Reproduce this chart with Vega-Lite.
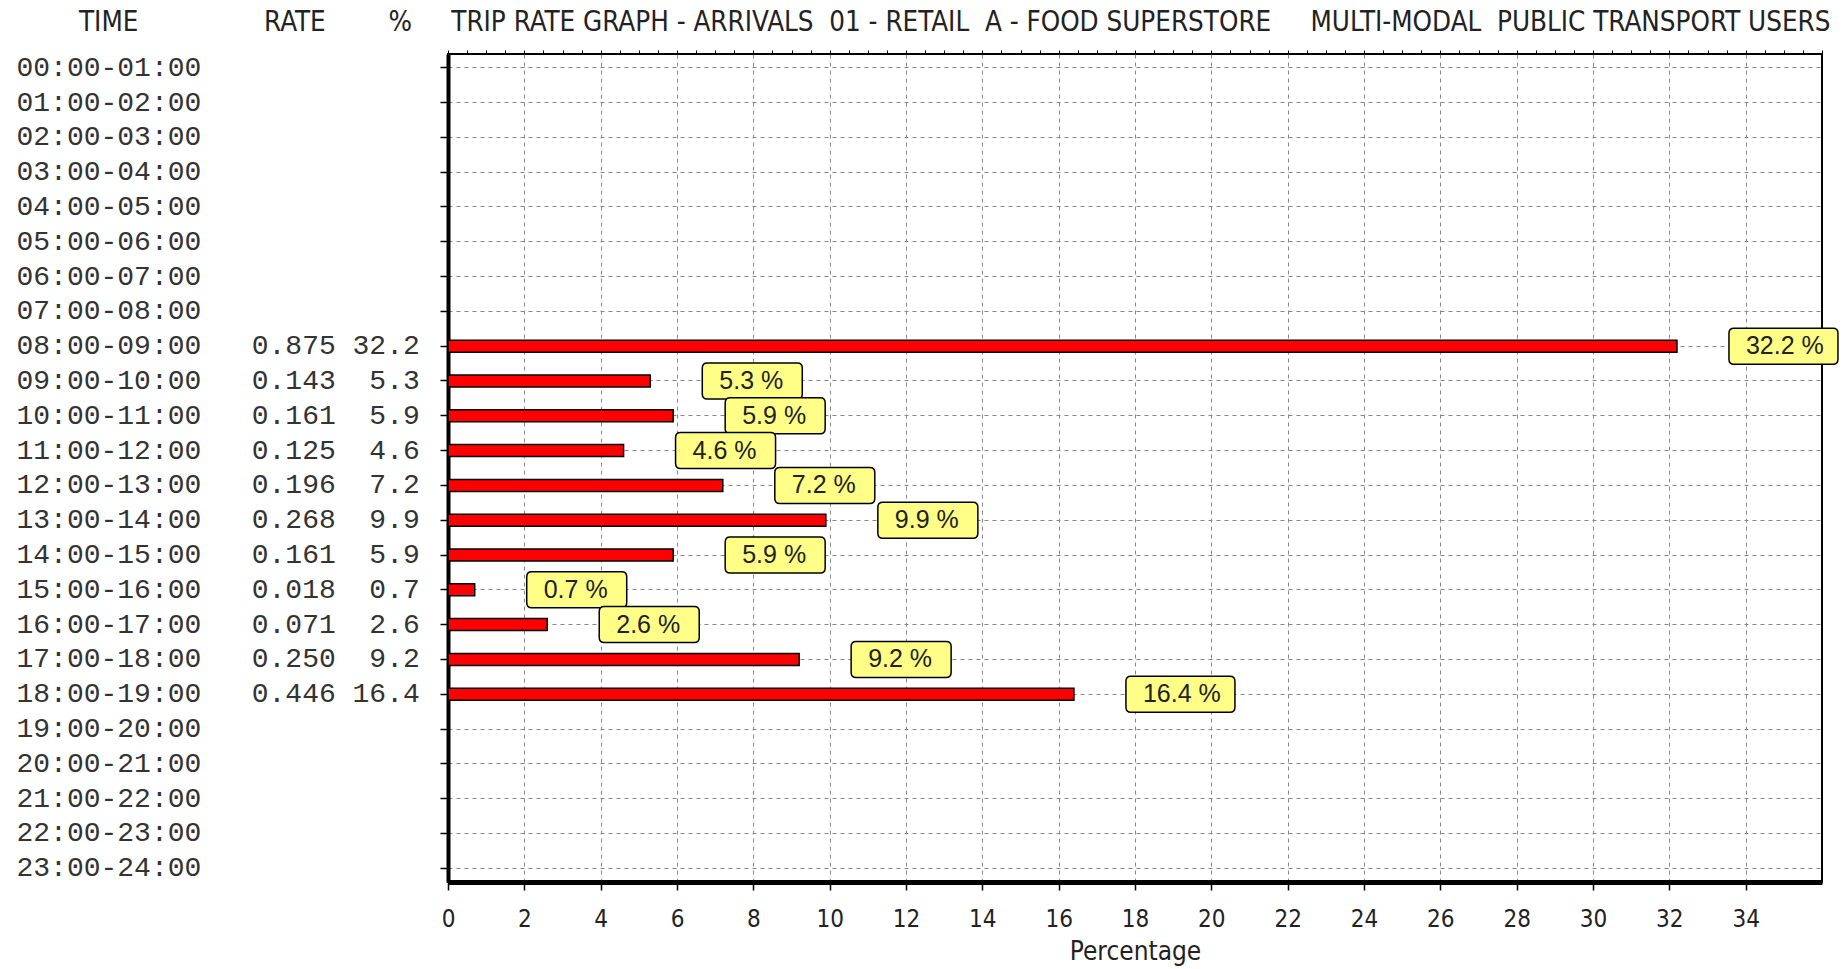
{
  "$schema": "https://vega.github.io/schema/vega-lite/v6.json",
  "width": 1374,
  "height": 828,
  "autosize": {"type": "none"},
  "padding": {"left": 448, "top": 54, "right": 23, "bottom": 87},
  "background": "white",
  "title": {
    "text": "TIME\u00a0\u00a0\u00a0\u00a0\u00a0\u00a0\u00a0\u00a0\u00a0\u00a0\u00a0\u00a0\u00a0\u00a0\u00a0\u00a0RATE\u00a0\u00a0\u00a0\u00a0\u00a0\u00a0\u00a0\u00a0%\u00a0\u00a0\u00a0\u00a0\u00a0TRIP RATE GRAPH - ARRIVALS\u00a0\u00a001 - RETAIL\u00a0\u00a0A - FOOD SUPERSTORE\u00a0\u00a0\u00a0\u00a0\u00a0MULTI-MODAL\u00a0\u00a0PUBLIC TRANSPORT USERS",
    "anchor": "start",
    "frame": "group",
    "dx": -369,
    "offset": -9,
    "baseline": "alphabetic",
    "font": "Liberation Sans Narrow, DejaVu Sans Condensed, sans-serif",
    "fontSize": 27.5,
    "fontWeight": "normal",
    "color": "#222"
  },
  "data": {
    "values": [
      {"time": "00:00-01:00", "rate": null, "pct": null},
      {"time": "01:00-02:00", "rate": null, "pct": null},
      {"time": "02:00-03:00", "rate": null, "pct": null},
      {"time": "03:00-04:00", "rate": null, "pct": null},
      {"time": "04:00-05:00", "rate": null, "pct": null},
      {"time": "05:00-06:00", "rate": null, "pct": null},
      {"time": "06:00-07:00", "rate": null, "pct": null},
      {"time": "07:00-08:00", "rate": null, "pct": null},
      {"time": "08:00-09:00", "rate": 0.875, "pct": 32.2},
      {"time": "09:00-10:00", "rate": 0.143, "pct": 5.3},
      {"time": "10:00-11:00", "rate": 0.161, "pct": 5.9},
      {"time": "11:00-12:00", "rate": 0.125, "pct": 4.6},
      {"time": "12:00-13:00", "rate": 0.196, "pct": 7.2},
      {"time": "13:00-14:00", "rate": 0.268, "pct": 9.9},
      {"time": "14:00-15:00", "rate": 0.161, "pct": 5.9},
      {"time": "15:00-16:00", "rate": 0.018, "pct": 0.7},
      {"time": "16:00-17:00", "rate": 0.071, "pct": 2.6},
      {"time": "17:00-18:00", "rate": 0.25, "pct": 9.2},
      {"time": "18:00-19:00", "rate": 0.446, "pct": 16.4},
      {"time": "19:00-20:00", "rate": null, "pct": null},
      {"time": "20:00-21:00", "rate": null, "pct": null},
      {"time": "21:00-22:00", "rate": null, "pct": null},
      {"time": "22:00-23:00", "rate": null, "pct": null},
      {"time": "23:00-24:00", "rate": null, "pct": null}
    ]
  },
  "transform": [
    {"calculate": "datum.time + (isValid(datum.rate) ? '\u00a0\u00a0\u00a0' + format(datum.rate, '.3f') + '\u00a0' + pad(format(datum.pct, '.1f'), 4, '\u00a0', 'left') : '')", "as": "label"},
    {"calculate": "format(datum.pct, '.1f') + ' %'", "as": "pctText"}
  ],
  "layer": [
    {
      "mark": {"type": "point", "opacity": 0},
      "encoding": {
        "y": {
          "field": "label",
          "type": "nominal",
          "sort": "ascending",
          "scale": {"type": "band", "paddingInner": 0.655, "paddingOuter": 0.2225},
          "axis": {
            "title": null,
            "labelFont": "Liberation Mono",
            "labelFontSize": 28,
            "labelColor": "#333",
            "labelAlign": "left",
            "labelBaseline": "middle",
            "labelPadding": 424,
            "labelLimit": 1000,
            "labelOverlap": false,
            "tickSize": 8,
            "tickColor": "black",
            "tickWidth": 1.5,
            "bandPosition": 0.5,
            "domainColor": "black",
            "domainWidth": 4,
            "grid": true,
            "gridDash": [4, 4],
            "gridColor": "#888",
            "gridWidth": 1
          }
        }
      }
    },
    {
      "mark": {"type": "bar", "orient": "horizontal", "fill": "#ff0000", "stroke": "black", "strokeWidth": 1.5},
      "encoding": {
        "x": {
          "field": "pct",
          "type": "quantitative",
          "scale": {"domain": [0, 36], "nice": false, "zero": true},
          "axis": {
            "title": "Percentage",
            "titleFont": "Liberation Sans Narrow, DejaVu Sans Condensed, sans-serif",
            "titleFontSize": 26,
            "titleFontWeight": "normal",
            "titleColor": "#222",
            "titleBaseline": "top",
            "titleY": 56,
            "values": [0, 2, 4, 6, 8, 10, 12, 14, 16, 18, 20, 22, 24, 26, 28, 30, 32, 34],
            "labelFont": "Liberation Sans Narrow, DejaVu Sans Condensed, sans-serif",
            "labelFontSize": 24,
            "labelColor": "#222",
            "labelPadding": 17,
            "labelFlush": false,
            "labelOverlap": false,
            "tickSize": 8,
            "tickColor": "black",
            "tickWidth": 1.5,
            "domainColor": "black",
            "domainWidth": 5,
            "grid": true,
            "gridDash": [4, 4],
            "gridColor": "#888",
            "gridWidth": 1
          }
        },
        "y": {"field": "label", "type": "nominal", "sort": "ascending", "axis": null}
      }
    },
    {
      "mark": {
        "type": "point",
        "size": 40000,
        "filled": true,
        "fill": "#ffff88",
        "stroke": "black",
        "strokeWidth": 1.5,
        "opacity": 1
      },
      "encoding": {
        "x": {
          "field": "pct",
          "type": "quantitative",
          "axis": {
            "title": null,
            "labels": false,
            "domain": false,
            "grid": false,
            "tickCount": 72,
            "tickSize": 4,
            "tickColor": "black",
            "tickWidth": 1
          }
        },
        "y": {"field": "label", "type": "nominal", "sort": "ascending", "axis": null},
        "shape": {
          "condition": {
            "test": "datum.pct >= 10",
            "value": "M 0.57 -0.18 L 1.56 -0.18 Q 1.61 -0.18 1.61 -0.13 L 1.61 0.13 Q 1.61 0.18 1.56 0.18 L 0.57 0.18 Q 0.52 0.18 0.52 0.13 L 0.52 -0.13 Q 0.52 -0.18 0.57 -0.18 Z"
          },
          "value": "M 0.57 -0.18 L 1.47 -0.18 Q 1.52 -0.18 1.52 -0.13 L 1.52 0.13 Q 1.52 0.18 1.47 0.18 L 0.57 0.18 Q 0.52 0.18 0.52 0.13 L 0.52 -0.13 Q 0.52 -0.18 0.57 -0.18 Z"
        }
      }
    },
    {
      "mark": {"type": "text", "dx": 69, "font": "Liberation Sans", "fontSize": 25, "color": "#222", "align": "left", "baseline": "middle"},
      "encoding": {
        "x": {"field": "pct", "type": "quantitative", "axis": null},
        "y": {"field": "label", "type": "nominal", "sort": "ascending", "axis": null},
        "text": {"field": "pctText"}
      }
    }
  ],
  "resolve": {"axis": {"x": "independent", "y": "independent"}},
  "config": {
    "view": {"stroke": "black", "strokeWidth": 2, "fill": "white"}
  }
}
